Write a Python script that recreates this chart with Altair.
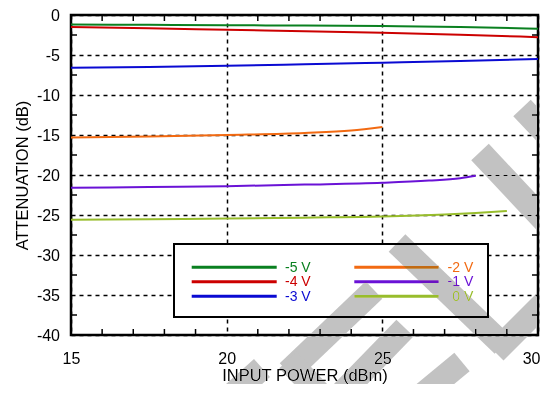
import altair as alt
import pandas as pd

# ---------------- data ----------------
series_names = ["-5 V", "-4 V", "-3 V", "-2 V", "-1 V", "0 V"]
series_colors = ["#0a8020", "#cc0000", "#0a0ad2", "#f26a12", "#6a12d6", "#98bd2c"]

x_m5 = [15, 17.5, 20, 22.5, 25, 27.5, 30]
y_m5 = [-1.2, -1.22, -1.28, -1.32, -1.38, -1.5, -1.72]

x_m4 = [15, 17.5, 20, 22.5, 25, 27.5, 30]
y_m4 = [-1.5, -1.65, -1.85, -2.03, -2.23, -2.48, -2.77]

x_m3 = [15, 17.5, 20, 22.5, 25, 27.5, 30]
y_m3 = [-6.6, -6.5, -6.35, -6.17, -5.97, -5.75, -5.5]

x_m2 = [15, 17.5, 20, 22.5, 24, 25]
y_m2 = [-15.3, -15.2, -15.0, -14.75, -14.45, -14.0]

x_m1 = [15, 17.5, 20, 22.5, 25, 26.5, 27.5, 28]
y_m1 = [-21.6, -21.5, -21.4, -21.2, -20.97, -20.7, -20.4, -20.1]

x_0 = [15, 17.5, 20, 22.5, 25, 27, 28, 29]
y_0 = [-25.6, -25.52, -25.45, -25.33, -25.2, -24.95, -24.75, -24.5]

x_ticks = [15, 20, 25, 30]
y_ticks = [-40, -35, -30, -25, -20, -15, -10, -5, 0]
x_minor = [16, 17, 18, 19, 21, 22, 23, 24, 26, 27, 28, 29]
y_minor = [-37.5, -32.5, -27.5, -22.5, -17.5, -12.5, -7.5, -2.5]

# decorative watermark bands (pixel positions inside the chart)
wm_x1 = [451, 409, 326, 424, 303, 217, 269, 339, 144]
wm_y1 = [93, 137, 228, 337, 275, 345, 380, 390, 395]
wm_x2 = [519, 529, 432, 504, 217, 264, 334, 391, 191]
wm_y2 = [165, 265, 330, 257, 357, 395, 313, 347, 353]

# ---------------- build tables ----------------
xs = [x_m5, x_m4, x_m3, x_m2, x_m1, x_0]
ys = [y_m5, y_m4, y_m3, y_m2, y_m1, y_0]
rows = []
for name, xx, yy in zip(series_names, xs, ys):
    for a, b in zip(xx, yy):
        rows.append({"series": name, "x": a, "y": b})
df = pd.DataFrame(rows)

W, H = 467, 320
FONT = "Liberation Sans"
ONE = pd.DataFrame({"k": [0]})

xscale = alt.Scale(domain=[15, 30], nice=False, zero=False)
yscale = alt.Scale(domain=[-40, 0], nice=False, zero=False)

x_axis = alt.Axis(
    values=x_ticks, grid=True, gridColor="black", gridDash=[4, 4], gridWidth=1.5,
    gridOpacity=1, domain=False, ticks=False, tickSize=0, labelFont=FONT,
    labelFontSize=16, labelColor="black", labelPadding=15, labelFlush=False,
    labelExpr="'' + datum.value",
    labelAlign={"condition": {"test": "datum.value >= 30", "value": "right"}, "value": "center"},
    labelOffset={"condition": {"test": "datum.value >= 30", "value": 2}, "value": 0},
    title="INPUT POWER (dBm)", titleFont=FONT, titleFontSize=16.5,
    titleFontWeight="normal", titleColor="black", titlePadding=1.5)
y_axis = alt.Axis(
    values=y_ticks, grid=True, gridColor="black", gridDash=[4, 4], gridWidth=1.5,
    gridOpacity=1, domain=False, ticks=False, tickSize=0, labelFont=FONT,
    labelFontSize=16, labelColor="black", labelPadding=11.5, labelFlush=False,
    labelExpr="'' + datum.value",
    title="ATTENUATION (dB)", titleFont=FONT, titleFontSize=16.5,
    titleFontWeight="normal", titleColor="black", titlePadding=6)

lines = alt.Chart(df).mark_line(strokeWidth=2, interpolate="monotone").encode(
    x=alt.X("x:Q", scale=xscale, axis=x_axis),
    y=alt.Y("y:Q", scale=yscale, axis=y_axis),
    color=alt.Color("series:N",
        scale=alt.Scale(domain=series_names, range=series_colors), legend=None),
    detail="series:N",
)

# minor ticks drawn inside the frame
df_xm = pd.DataFrame({"x": x_minor})
df_ym = pd.DataFrame({"y": y_minor})
tick_style = dict(color="black", strokeWidth=1.5)
xt_bot = alt.Chart(df_xm).mark_rule(**tick_style).encode(
    x=alt.X("x:Q", scale=xscale, axis=x_axis), y=alt.value(H), y2=alt.value(H - 6))
xt_top = alt.Chart(df_xm).mark_rule(**tick_style).encode(
    x=alt.X("x:Q", scale=xscale, axis=x_axis), y=alt.value(0), y2=alt.value(6))
yt_left = alt.Chart(df_ym).mark_rule(**tick_style).encode(
    y=alt.Y("y:Q", scale=yscale, axis=y_axis), x=alt.value(0), x2=alt.value(6))
yt_right = alt.Chart(df_ym).mark_rule(**tick_style).encode(
    y=alt.Y("y:Q", scale=yscale, axis=y_axis), x=alt.value(W), x2=alt.value(W - 6))

# ---------------- legend (drawn box, two columns of three) ----------------
LBOX = (103, 229, 417, 302)
col_line_x = [(120.7, 205.7), (283.3, 367.7)]
col_text = [(214, "left"), (402.3, "right")]
row_y = [252.3, 266.8, 281.3]

legend_layers = [
    alt.Chart(ONE).mark_rect(fill="white", stroke="black", strokeWidth=2).encode(
        x=alt.value(LBOX[0]), y=alt.value(LBOX[1]),
        x2=alt.value(LBOX[2]), y2=alt.value(LBOX[3]))
]
for i, (name, colr) in enumerate(zip(series_names, series_colors)):
    c, r = i // 3, i % 3
    legend_layers.append(
        alt.Chart(ONE).mark_rule(color=colr, strokeWidth=3).encode(
            x=alt.value(col_line_x[c][0]), x2=alt.value(col_line_x[c][1]),
            y=alt.value(row_y[r])))
    legend_layers.append(
        alt.Chart(ONE).mark_text(
            text=name, color=colr, font=FONT, fontSize=14,
            align=col_text[c][1], baseline="middle").encode(
            x=alt.value(col_text[c][0]), y=alt.value(row_y[r] + 0.5)))

# ---------------- watermark ----------------
wm_layers = []
for a, b, c2, d in zip(wm_x1, wm_y1, wm_x2, wm_y2):
    wm_layers.append(
        alt.Chart(ONE).mark_rule(
            color="#c2c2c2", strokeWidth=24, strokeCap="butt", blend="darken").encode(
            x=alt.value(a), y=alt.value(b), x2=alt.value(c2), y2=alt.value(d)))

chart = alt.layer(lines, xt_bot, xt_top, yt_left, yt_right, *legend_layers, *wm_layers).properties(
    width=W, height=H,
    autosize=alt.AutoSizeParams(type="none"),
    padding={"left": 63, "top": 7, "right": 2, "bottom": 49},
    background="white",
).configure_view(stroke="black", strokeWidth=2.5)

chart.save("out.html", embed_options={"renderer": "svg", "actions": False})
